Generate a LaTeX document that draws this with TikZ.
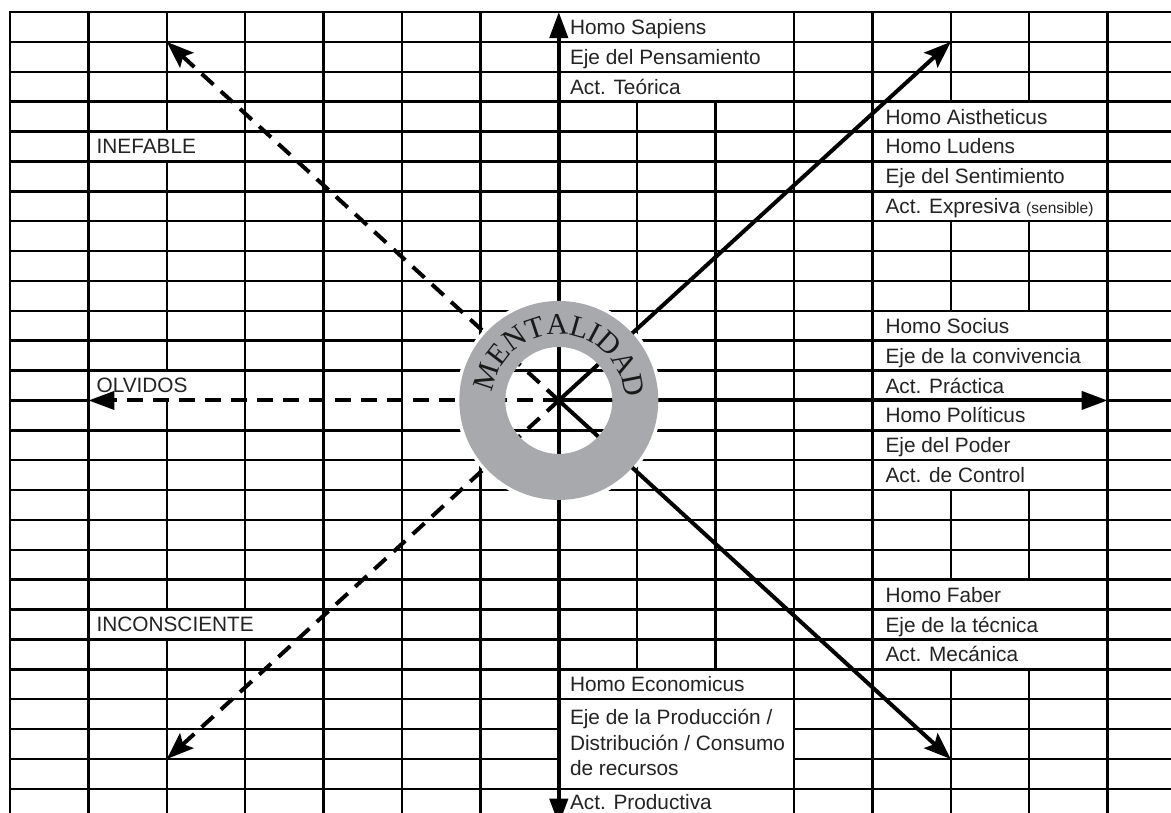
\documentclass[tikz,border=0pt]{standalone}
\usepackage{fontspec}
\setmainfont{Liberation Sans}
\newfontfamily\mentfont{Liberation Serif}
\usetikzlibrary{arrows.meta}
\definecolor{ringgray}{RGB}{168,169,172}
\definecolor{ink}{RGB}{35,35,35}
\begin{document}
\begin{tikzpicture}[x=78.4pt,y=-29.88pt,
  gridline/.style={line width=2.5pt, black, line cap=rect},
  axisline/.style={line width=4pt, black},
  axisarrow/.style={axisline, -{Triangle[length=26pt,width=18pt]}},
  diagarrow/.style={line width=4pt, black, -{Stealth[length=27pt,width=20pt,inset=5pt]}},
  dasharrow/.style={dash pattern=on 16pt off 10pt},
  lbl/.style={anchor=base west, inner sep=0pt, text=ink, font=\fontsize{20.8pt}{24pt}\selectfont},
  ringletter/.style={anchor=base, inner sep=0pt, text=black!90, font=\mentfont\fontsize{30pt}{32pt}\selectfont}]
\clip (-10pt,12pt) rectangle (1161pt,-800pt);
\fill[white] (-10pt,12pt) rectangle (1161pt,-800pt);

% ---- grid: horizontal lines
\foreach \j in {0,...,12,14,15,...,23,26,27} \draw[gridline] (0,\j) -- (15,\j);
\draw[gridline] (0,13) -- (1,13) (14,13) -- (15,13);
\foreach \j in {24,25} \draw[gridline] (0,\j) -- (7,\j) (10,\j) -- (15,\j);
% ---- grid: vertical lines
\foreach \i in {0,1,4,5,6,10,11,14,15} \draw[gridline] (\i,0) -- (\i,27);
\draw[gridline] (2,0) -- (2,4) (2,5) -- (2,12) (2,13) -- (2,20) (2,21) -- (2,27);
\draw[gridline] (3,0) -- (3,20) (3,21) -- (3,27);
\foreach \i in {8,9} \draw[gridline] (\i,3) -- (\i,22);
\foreach \i in {12,13} \draw[gridline] (\i,0) -- (\i,3) (\i,7) -- (\i,10) (\i,16) -- (\i,19) (\i,22) -- (\i,27);

% ---- coordinates
\coordinate (c) at (7,13);
\coordinate (n) at (7,0);
\coordinate (s) at (7,27.2);
\coordinate (e) at (14,13);
\coordinate (w) at (1,13);
\coordinate (ne) at (12,1);
\coordinate (nw) at (2,1);
\coordinate (se) at (12,25);
\coordinate (sw) at (2,25);

% ---- white halo around the ring
\begin{scope}[shift={(c)}, x=1pt, y=1pt]
\fill[white, even odd rule] (0,0) circle[radius=103] (0,0) circle[radius=53.5];
\end{scope}

% ---- arrows
\draw[axisarrow] (c) -- (n);
\draw[axisarrow] (c) -- (s);
\draw[axisarrow] (c) -- (e);
\draw[axisarrow, dasharrow] (c) -- (w);
\draw[diagarrow] (c) -- (ne);
\draw[diagarrow] (c) -- (se);
\draw[diagarrow, dasharrow] (c) -- (nw);
\draw[diagarrow, dasharrow] (c) -- (sw);

% ---- ring and its text
\begin{scope}[shift={(c)}, x=1pt, y=1pt]
\fill[ringgray, even odd rule] (0,0) circle[radius=99.5] (0,0) circle[radius=53.5];
\foreach \a/\ch [count=\k] in {161.7/M,142.5/E,125.4/N,108.3/T,91.2/A,74.1/L,62.0/I,48.4/D,29.9/A,11.3/D}
  \node[ringletter, rotate=\a-90] (ml\k) at (\a:66) {\ch};
\end{scope}

% ---- labels (top)
\node[lbl, xshift=11pt, yshift=-7.5pt] (t1) at (7,0.5) {Homo Sapiens};
\node[lbl, xshift=11pt, yshift=-7.5pt] (t2) at (7,1.5) {Eje del Pensamiento};
\node[lbl, xshift=11pt, yshift=-7.5pt] (t3) at (7,2.5) {Act. Teórica};
% ---- labels (upper right)
\node[lbl, xshift=13pt, yshift=-7.5pt] (r1) at (11,3.5) {Homo Aistheticus};
\node[lbl, xshift=13pt, yshift=-7.5pt] (r2) at (11,4.5) {Homo Ludens};
\node[lbl, xshift=13pt, yshift=-7.5pt] (r3) at (11,5.5) {Eje del Sentimiento};
\node[lbl, xshift=13pt, yshift=-7.5pt] (r4) at (11,6.5) {Act. Expresiva {\fontsize{15.5pt}{18pt}\selectfont(sensible)}};
% ---- labels (right)
\node[lbl, xshift=13pt, yshift=-7.5pt] (m1) at (11,10.5) {Homo Socius};
\node[lbl, xshift=13pt, yshift=-7.5pt] (m2) at (11,11.5) {Eje de la convivencia};
\node[lbl, xshift=13pt, yshift=-7.5pt] (m3) at (11,12.5) {Act. Práctica};
\node[lbl, xshift=13pt, yshift=-7.5pt] (m4) at (11,13.5) {Homo Políticus};
\node[lbl, xshift=13pt, yshift=-7.5pt] (m5) at (11,14.5) {Eje del Poder};
\node[lbl, xshift=13pt, yshift=-7.5pt] (m6) at (11,15.5) {Act. de Control};
% ---- labels (lower right)
\node[lbl, xshift=13pt, yshift=-7.5pt] (f1) at (11,19.5) {Homo Faber};
\node[lbl, xshift=13pt, yshift=-7.5pt] (f2) at (11,20.5) {Eje de la técnica};
\node[lbl, xshift=13pt, yshift=-7.5pt] (f3) at (11,21.5) {Act. Mecánica};
% ---- labels (bottom)
\node[lbl, xshift=11pt, yshift=-7.5pt] (b1) at (7,22.5) {Homo Economicus};
\node[lbl, xshift=11pt, yshift=-7.5pt] (b2) at (7,23.6) {Eje de la Producción /};
\node[lbl, xshift=11pt, yshift=-7.5pt] (b3) at (7,24.45) {Distribución / Consumo};
\node[lbl, xshift=11pt, yshift=-7.5pt] (b4) at (7,25.3) {de recursos};
\node[lbl, xshift=11pt, yshift=-6pt] (b5) at (7,26.5) {Act. Productiva};
% ---- labels (left)
\node[lbl, xshift=8pt, yshift=-7pt] (l1) at (1,4.5) {INEFABLE};
\node[lbl, xshift=8pt, yshift=-6.5pt] (l2) at (1,12.5) {OLVIDOS};
\node[lbl, xshift=8pt, yshift=-7pt] (l3) at (1,20.5) {INCONSCIENTE};
\end{tikzpicture}
\end{document}
